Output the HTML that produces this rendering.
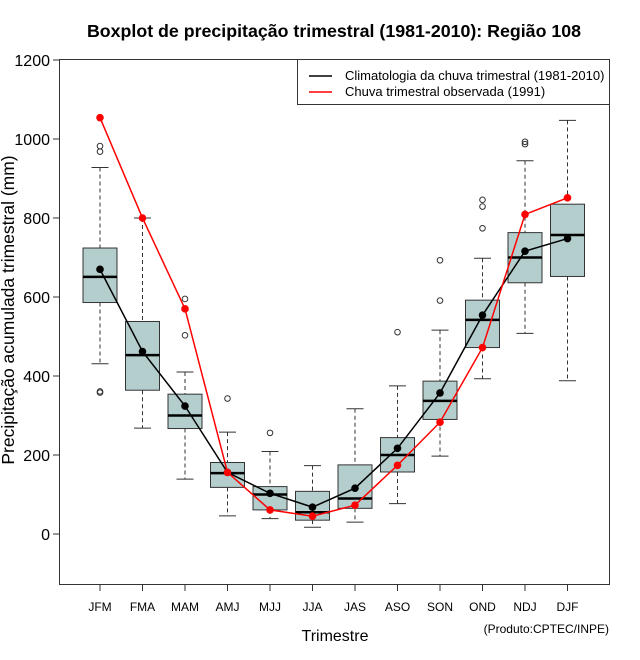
<!DOCTYPE html>
<html><head><meta charset="utf-8"><style>
html,body{margin:0;padding:0;background:#fff;}
svg{display:block;font-family:"Liberation Sans",sans-serif;}
</style></head><body>
<svg id="chart" width="640" height="660" viewBox="0 0 640 660" xmlns="http://www.w3.org/2000/svg">
<rect x="0" y="0" width="640" height="660" fill="#fff"/>
<text x="334" y="37" text-anchor="middle" font-size="17.8" font-weight="bold">Boxplot de precipitação trimestral (1981-2010): Região 108</text>
<rect x="59.5" y="59.5" width="550" height="525" fill="none" stroke="#333" stroke-width="1"/>
<g id="yaxis"></g>
<g id="xaxis"></g>
<g id="boxes"></g>
<g id="lines"></g>
<text transform="translate(14,310) rotate(-90)" text-anchor="middle" font-size="17.5">Precipitação acumulada trimestral (mm)</text>
<text x="335" y="641" text-anchor="middle" font-size="16">Trimestre</text>
<text x="609" y="633" text-anchor="end" font-size="12">(Produto:CPTEC/INPE)</text>
<g>
<rect x="297.5" y="59.5" width="312" height="45" fill="#fff" stroke="#333"/>
<line x1="309" y1="76" x2="332" y2="76" stroke="#000" stroke-width="1.5"/>
<text x="345" y="80" font-size="13">Climatologia da chuva trimestral (1981-2010)</text>
<line x1="309" y1="92" x2="332" y2="92" stroke="#f00" stroke-width="1.5"/>
<text x="345" y="96" font-size="13">Chuva trimestral observada (1991)</text>
</g>
</svg>
<script>
const categories=["JFM","FMA","MAM","AMJ","MJJ","JJA","JAS","ASO","SON","OND","NDJ","DJF"];
const whiskerLow=[431,268,139,46,39,17,30,77,197,393,508,388];
const q1=[586,364,267,118,61,35,65,157,290,472,636,652];
const medians=[651,453,300,154,100,55,90,200,337,542,700,757];
const q3=[724,538,354,181,120,108,175,244,387,592,763,835];
const whiskerHigh=[928,800,410,258,209,173,317,375,516,698,945,1047];
const outliers=[[982,968,361,358],[],[595,503],[343],[256],[],[],[511],[693,591],[846,829,774],[993,987],[]];
const climatology=[670,462,324,156,103,68,116,217,357,554,716,748];
const observed=[1054,800,570,156,61,45,73,174,283,472,809,851];
const yTicks=[0,200,400,600,800,1000,1200];

const NS="http://www.w3.org/2000/svg";
function yS(v){return 534-(v*474/1200);}
function xS(i){return 100+i*42.5;}
function mk(tag,attrs,parent){const e=document.createElementNS(NS,tag);for(const k in attrs)e.setAttribute(k,attrs[k]);parent.appendChild(e);return e;}
const ya=document.getElementById('yaxis'),xa=document.getElementById('xaxis'),bx=document.getElementById('boxes'),ln=document.getElementById('lines');
yTicks.forEach(t=>{
  const l=mk('line',{x1:53,x2:59,y1:yS(t),y2:yS(t),stroke:'#333'},ya);
  
  
  const tx=mk('text',{x:50,y:yS(t)+6,'text-anchor':'end','font-size':16},ya);
  tx.textContent=t;
  
  
});
categories.forEach((c,i)=>{
  const x=xS(i);
  const l=mk('line',{x1:x,x2:x,y1:585,y2:591,stroke:'#333'},xa);
  
  
  const tx=mk('text',{x:x,y:611,'text-anchor':'middle','font-size':12},xa);
  tx.textContent=c;
  
  
  const g=mk('g',{},bx);
  
  
  mk('line',{x1:x,x2:x,y1:yS(whiskerHigh[i]),y2:yS(q3[i]),stroke:'#333','stroke-dasharray':'4,3'},g);
  mk('line',{x1:x,x2:x,y1:yS(q1[i]),y2:yS(whiskerLow[i]),stroke:'#333','stroke-dasharray':'4,3'},g);
  mk('line',{x1:x-8.5,x2:x+8.5,y1:yS(whiskerHigh[i]),y2:yS(whiskerHigh[i]),stroke:'#333'},g);
  mk('line',{x1:x-8.5,x2:x+8.5,y1:yS(whiskerLow[i]),y2:yS(whiskerLow[i]),stroke:'#333'},g);
  mk('rect',{x:x-17,y:yS(q3[i]),width:34,height:yS(q1[i])-yS(q3[i]),fill:'#b4cece',stroke:'#333'},g);
  mk('line',{x1:x-17,x2:x+17,y1:yS(medians[i]),y2:yS(medians[i]),stroke:'#000','stroke-width':2.5},g);
  outliers[i].forEach(o=>{
    const c2=mk('circle',{cx:x,cy:yS(o),r:2.8,fill:'none',stroke:'#333'},g);
    
    
  });
});
function series(vals,color,name){
  const g=mk('g',{},ln);
  
  
  mk('polyline',{points:vals.map((v,i)=>xS(i)+','+yS(v)).join(' '),fill:'none',stroke:color,'stroke-width':1.5},g);
  vals.forEach((v,i)=>{
    const p=mk('circle',{cx:xS(i),cy:yS(v),r:3.8,fill:color},g);
    
    
  });
}
series(climatology,'#000','climatology-series');
series(observed,'#f00','observed-series');
</script>
</body></html>
